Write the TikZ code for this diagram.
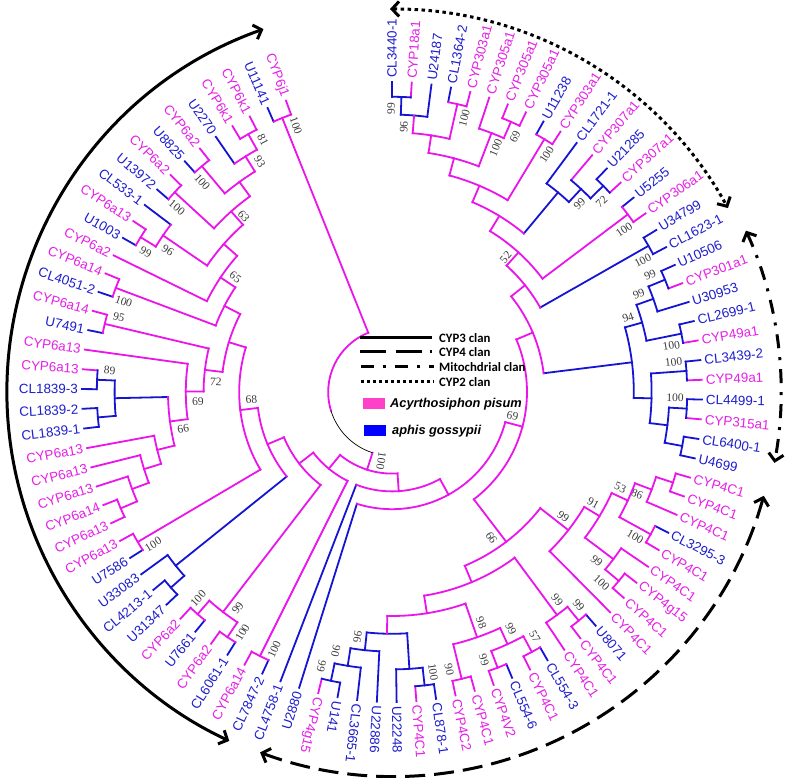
\documentclass[tikz,border=0pt]{standalone}
\usepackage{fontspec}
\setmainfont{Liberation Sans}
\newfontfamily\bsfont{Liberation Serif}
\newfontfamily\legfont{Carlito}
\usetikzlibrary{arrows.meta}
\definecolor{mg}{RGB}{235,20,235}
\definecolor{bl}{RGB}{20,20,210}
\definecolor{mgt}{RGB}{230,32,230}
\definecolor{blt}{RGB}{30,30,205}
\definecolor{bsg}{RGB}{60,60,60}
\definecolor{pinkbox}{RGB}{255,64,200}
\definecolor{bluebox}{RGB}{0,0,255}
\newcommand\setv[2]{\expandafter\xdef\csname tv@#1\endcsname{#2}}
\newcommand\getv[1]{\csname tv@#1\endcsname}
\tikzset{
  br/.style={line width=1.8pt,line cap=rect,line join=miter},
  leaf/.style={inner sep=0pt,font=\fontsize{13.4}{15}\selectfont},
  bs/.style={inner sep=0pt,text=bsg,font=\bsfont\fontsize{11.5}{12}\selectfont},
  clan/.style={line width=3pt},
  legtxt/.style={anchor=west,inner sep=0pt,font=\legfont\bfseries\fontsize{12.8}{14}\selectfont},
  spectxt/.style={anchor=west,inner sep=0pt,font=\bfseries\itshape\fontsize{12.8}{14}\selectfont}
}
% leaf: name, index, colour, text
\newcommand\Lf[4]{%
  \pgfmathsetmacro\la{90-(#2-1)*3.656}%
  \setv{a#1}{\la}\setv{h#1}{0}\setv{r#1}{310}\setv{c#1}{#3}%
  \pgfmathtruncatemacro\fl{\la>-105?1:0}%
  \ifnum\fl=1
    \node[leaf,text=#3t,rotate=\la,anchor=west] (#1) at (\la:314pt) {#4};%
  \else
    \pgfmathsetmacro\lb{\la+180}%
    \node[leaf,text=#3t,rotate=\lb,anchor=east] (#1) at (\la:314pt) {#4};%
  \fi}
% internal node: name, child A, child B, arc colour, stem colour, label, label angle offset
\newcommand\Nd[7]{%
  \edef\aA{\getv{a#2}}\edef\aB{\getv{a#3}}%
  \edef\rA{\getv{r#2}}\edef\rB{\getv{r#3}}%
  \edef\cA{\getv{c#2}}\edef\cB{\getv{c#3}}%
  \edef\hA{\getv{h#2}}\edef\hB{\getv{h#3}}%
  \pgfmathtruncatemacro\xh{max(\hA,\hB)+1}%
  \pgfmathsetmacro\xr{313-17.8*\xh}%
  \pgfmathsetmacro\xa{(\aA+\aB)/2}%
  \setv{a#1}{\xa}\setv{h#1}{\xh}\setv{r#1}{\xr}\setv{c#1}{#5}%
  \draw[br,color=\cA] (\aA:\xr pt) -- (\aA:\rA pt);%
  \draw[br,color=\cB] (\aB:\xr pt) -- (\aB:\rB pt);%
  \draw[br,color=#4] (\aA:\xr pt) arc[start angle=\aA,end angle=\aB,radius=\xr pt];%
  \def\tmp{#6}%
  \ifx\tmp\empty\else
    \pgfmathsetmacro\ba{\xa+#7}\pgfmathsetmacro\bR{\xr-12}%
    \pgfmathtruncatemacro\fl{\ba>-105?1:0}%
    \ifnum\fl=1 \pgfmathsetmacro\bb{\ba}\else\pgfmathsetmacro\bb{\ba+180}\fi
    \node[bs,rotate=\bb] (b#1) at (\ba:\bR pt) {#6};%
  \fi}
\begin{document}
\begin{tikzpicture}[x=1pt,y=1pt]
\fill[white] (-392,-386) rectangle (395,392);
\useasboundingbox (-392,-386) rectangle (395,392);
% leaves
\Lf{l1}{1}{bl}{CL3440-1}
\Lf{l2}{2}{mg}{CYP18a1}
\Lf{l3}{3}{bl}{U24187}
\Lf{l4}{4}{bl}{CL1364-2}
\Lf{l5}{5}{mg}{CYP303a1}
\Lf{l6}{6}{mg}{CYP305a1}
\Lf{l7}{7}{mg}{CYP305a1}
\Lf{l8}{8}{mg}{CYP305a1}
\Lf{l9}{9}{bl}{U11238}
\Lf{l10}{10}{mg}{CYP303a1}
\Lf{l11}{11}{bl}{CL1721-1}
\Lf{l12}{12}{mg}{CYP307a1}
\Lf{l13}{13}{bl}{U21285}
\Lf{l14}{14}{mg}{CYP307a1}
\Lf{l15}{15}{bl}{U5255}
\Lf{l16}{16}{mg}{CYP306a1}
\Lf{l17}{17}{bl}{U34799}
\Lf{l18}{18}{bl}{CL1623-1}
\Lf{l19}{19}{bl}{U10506}
\Lf{l20}{20}{mg}{CYP301a1}
\Lf{l21}{21}{bl}{U30953}
\Lf{l22}{22}{bl}{CL2699-1}
\Lf{l23}{23}{mg}{CYP49a1}
\Lf{l24}{24}{bl}{CL3439-2}
\Lf{l25}{25}{mg}{CYP49a1}
\Lf{l26}{26}{bl}{CL4499-1}
\Lf{l27}{27}{mg}{CYP315a1}
\Lf{l28}{28}{bl}{CL6400-1}
\Lf{l29}{29}{bl}{U4699}
\Lf{l30}{30}{mg}{CYP4C1}
\Lf{l31}{31}{mg}{CYP4C1}
\Lf{l32}{32}{mg}{CYP4C1}
\Lf{l33}{33}{bl}{CL3295-3}
\Lf{l34}{34}{mg}{CYP4C1}
\Lf{l35}{35}{mg}{CYP4C1}
\Lf{l36}{36}{mg}{CYP4g15}
\Lf{l37}{37}{mg}{CYP4C1}
\Lf{l38}{38}{mg}{CYP4C1}
\Lf{l39}{39}{bl}{U8071}
\Lf{l40}{40}{mg}{CYP4C1}
\Lf{l41}{41}{mg}{CYP4C1}
\Lf{l42}{42}{bl}{CL554-3}
\Lf{l43}{43}{mg}{CYP4C1}
\Lf{l44}{44}{bl}{CL554-6}
\Lf{l45}{45}{mg}{CYP4V2}
\Lf{l46}{46}{mg}{CYP4C1}
\Lf{l47}{47}{mg}{CYP4C2}
\Lf{l48}{48}{bl}{CL878-1}
\Lf{l49}{49}{mg}{CYP4C1}
\Lf{l50}{50}{bl}{U22248}
\Lf{l51}{51}{bl}{U22886}
\Lf{l52}{52}{bl}{CL3665-1}
\Lf{l53}{53}{bl}{U141}
\Lf{l54}{54}{mg}{CYP4g15}
\Lf{l55}{55}{bl}{U2880}
\Lf{l56}{56}{bl}{CL4758-1}
\Lf{l57}{57}{bl}{CL7847-2}
\Lf{l58}{58}{mg}{CYP6a14}
\Lf{l59}{59}{bl}{CL6061-1}
\Lf{l60}{60}{mg}{CYP6a2}
\Lf{l61}{61}{bl}{U7661}
\Lf{l62}{62}{mg}{CYP6a2}
\Lf{l63}{63}{bl}{U31347}
\Lf{l64}{64}{bl}{CL4213-1}
\Lf{l65}{65}{bl}{U33083}
\Lf{l66}{66}{bl}{U7586}
\Lf{l67}{67}{mg}{CYP6a13}
\Lf{l68}{68}{mg}{CYP6a13}
\Lf{l69}{69}{mg}{CYP6a14}
\Lf{l70}{70}{mg}{CYP6a13}
\Lf{l71}{71}{mg}{CYP6a13}
\Lf{l72}{72}{mg}{CYP6a13}
\Lf{l73}{73}{bl}{CL1839-1}
\Lf{l74}{74}{bl}{CL1839-2}
\Lf{l75}{75}{bl}{CL1839-3}
\Lf{l76}{76}{mg}{CYP6a13}
\Lf{l77}{77}{mg}{CYP6a13}
\Lf{l78}{78}{bl}{U7491}
\Lf{l79}{79}{mg}{CYP6a14}
\Lf{l80}{80}{bl}{CL4051-2}
\Lf{l81}{81}{mg}{CYP6a14}
\Lf{l82}{82}{mg}{CYP6a2}
\Lf{l83}{83}{bl}{U1003}
\Lf{l84}{84}{mg}{CYP6a13}
\Lf{l85}{85}{bl}{CL533-1}
\Lf{l86}{86}{bl}{U13972}
\Lf{l87}{87}{mg}{CYP6a2}
\Lf{l88}{88}{bl}{U8825}
\Lf{l89}{89}{mg}{CYP6a2}
\Lf{l90}{90}{bl}{U2270}
\Lf{l91}{91}{mg}{CYP6k1}
\Lf{l92}{92}{mg}{CYP6k1}
\Lf{l93}{93}{bl}{U11141}
\Lf{l94}{94}{mg}{CYP6j1}
% CYP2 clan
\Nd{A1}{l1}{l2}{bl}{bl}{99}{2}
\Nd{A2}{A1}{l3}{bl}{mg}{96}{2}
\Nd{A3}{l4}{l5}{mg}{mg}{100}{-2}
\Nd{A4}{A2}{A3}{mg}{mg}{}{0}
\Nd{A5}{l7}{l8}{mg}{mg}{69}{-2}
\Nd{A6}{l6}{A5}{mg}{mg}{100}{-2}
\Nd{A7}{A4}{A6}{mg}{mg}{}{0}
\Nd{A8}{l9}{l10}{mg}{mg}{100}{-2}
\Nd{A9}{A7}{A8}{mg}{mg}{}{0}
\Nd{A10}{l13}{l14}{bl}{bl}{72}{-2}
\Nd{A11}{l12}{A10}{bl}{bl}{99}{-2}
\Nd{A12}{l11}{A11}{bl}{bl}{}{0}
\Nd{A13}{A9}{A12}{mg}{mg}{}{0}
\Nd{A14}{l15}{l16}{mg}{mg}{100}{-2}
\Nd{A15}{A13}{A14}{mg}{mg}{52}{2}
% mitochondrial
\Nd{B1}{l17}{l18}{bl}{bl}{100}{-2}
\Nd{C1}{A15}{B1}{mg}{mg}{}{0}
\Nd{B2}{l19}{l20}{bl}{bl}{99}{2}
\Nd{B3}{B2}{l21}{bl}{bl}{99}{2}
\Nd{B4}{l22}{l23}{bl}{bl}{100}{-2}
\Nd{B5}{B3}{B4}{bl}{bl}{94}{2}
\Nd{B7}{l24}{l25}{bl}{bl}{100}{2}
\Nd{B8}{l26}{l27}{bl}{bl}{100}{2}
\Nd{B9}{l28}{l29}{bl}{bl}{}{0}
\Nd{B10}{B8}{B9}{bl}{bl}{}{0}
\Nd{B11}{B7}{B10}{bl}{bl}{}{0}
\Nd{B6}{B5}{B11}{bl}{bl}{}{0}
\Nd{C2}{C1}{B6}{mg}{mg}{}{0}
% CYP4 clan
\Nd{P30}{l30}{l31}{mg}{mg}{}{0}
\Nd{P31}{P30}{l32}{mg}{mg}{86}{-2}
\Nd{P33}{l33}{l34}{mg}{mg}{100}{-2}
\Nd{P53}{P31}{P33}{mg}{mg}{53}{2}
\Nd{X1}{l36}{l37}{mg}{mg}{100}{-2.5}
\Nd{X2}{l35}{X1}{mg}{mg}{99}{-2.5}
\Nd{N91}{P53}{X2}{mg}{mg}{91}{2}
\Nd{N99a}{N91}{l38}{mg}{mg}{99}{2}
\Nd{N99b}{l39}{l40}{mg}{mg}{99}{2}
\Nd{N99c}{N99b}{l41}{mg}{mg}{99}{2}
\Nd{G7}{l42}{l43}{mg}{mg}{57}{2}
\Nd{G8}{l44}{l45}{mg}{mg}{99}{-2}
\Nd{G9}{G7}{G8}{mg}{mg}{99}{2}
\Nd{G10}{l46}{l47}{mg}{mg}{90}{-2}
\Nd{G11}{G9}{G10}{mg}{mg}{98}{2}
\Nd{G4}{l48}{l49}{bl}{bl}{100}{2}
\Nd{G5}{G4}{l50}{bl}{bl}{}{0}
\Nd{G1}{l53}{l54}{bl}{bl}{99}{-2.5}
\Nd{G2}{l52}{G1}{bl}{bl}{90}{-3}
\Nd{G3}{l51}{G2}{bl}{bl}{96}{-2}
\Nd{G6}{G5}{G3}{bl}{mg}{}{0}
\Nd{G12}{G11}{G6}{mg}{mg}{}{0}
\Nd{W}{N99c}{G12}{mg}{mg}{}{0}
\Nd{E}{N99a}{W}{mg}{mg}{66}{-3}
\Nd{D}{C2}{E}{mg}{mg}{69}{3.5}
\Nd{F}{D}{l55}{mg}{mg}{}{0}
\Nd{H}{F}{l56}{mg}{mg}{}{0}
% CYP3 clan
\Nd{K57}{l57}{l58}{mg}{mg}{100}{2}
\Nd{K59}{l59}{l60}{mg}{mg}{100}{2}
\Nd{K61}{l61}{l62}{mg}{mg}{100}{-2}
\Nd{L}{K59}{K61}{mg}{mg}{99}{2}
\Nd{N63}{l63}{l64}{bl}{bl}{}{0}
\Nd{N}{N63}{l65}{bl}{bl}{}{0}
\Nd{K66}{l66}{l67}{mg}{mg}{100}{2}
\Nd{P68}{l68}{l69}{mg}{mg}{}{0}
\Nd{P70}{P68}{l70}{mg}{mg}{}{0}
\Nd{P71}{P70}{l71}{mg}{mg}{}{0}
\Nd{P72}{P71}{l72}{mg}{mg}{}{0}
\Nd{C73}{l73}{l74}{bl}{bl}{}{0}
\Nd{C75}{l75}{l76}{bl}{bl}{89}{-2}
\Nd{C1839}{C73}{C75}{bl}{bl}{}{0}
\Nd{N66}{P72}{C1839}{mg}{mg}{66}{2.4}
\Nd{N69}{N66}{l77}{mg}{mg}{69}{3}
\Nd{K78}{l78}{l79}{mg}{mg}{95}{-2}
\Nd{N72}{N69}{K78}{mg}{mg}{72}{3.5}
\Nd{K80}{l80}{l81}{mg}{mg}{100}{2}
\Nd{K83}{l83}{l84}{mg}{mg}{99}{2}
\Nd{K85}{K83}{l85}{mg}{mg}{96}{2}
\Nd{K86}{l86}{l87}{mg}{mg}{100}{2}
\Nd{K88}{l88}{l89}{mg}{mg}{100}{2}
\Nd{K91}{l91}{l92}{mg}{mg}{81}{-2}
\Nd{K90}{l90}{K91}{mg}{mg}{93}{-2}
\Nd{Q1}{K88}{K90}{mg}{mg}{}{0}
\Nd{Q2}{K86}{Q1}{mg}{mg}{63}{-1.5}
\Nd{Q3}{K85}{Q2}{mg}{mg}{}{0}
\Nd{V}{l82}{Q3}{mg}{mg}{65}{-2.5}
\Nd{U}{K80}{V}{mg}{mg}{}{0}
\Nd{R}{N72}{U}{mg}{mg}{}{0}
\Nd{S}{K66}{R}{mg}{mg}{68}{-3.6}
\Nd{M}{N}{S}{mg}{mg}{}{0}
\Nd{K}{L}{M}{mg}{mg}{}{0}
\Nd{J}{K57}{K}{mg}{mg}{}{0}
\Nd{T93}{l93}{l94}{mg}{mg}{100}{-2}
\Nd{Bn}{H}{J}{mg}{mg}{100}{9}
% root
\edef\aA{\getv{aT93}}\edef\aB{\getv{aBn}}
\edef\rA{\getv{rT93}}\edef\rB{\getv{rBn}}
\draw[br,color=mg] (\aA:63.8pt) -- (\aA:\rA pt);
\draw[br,color=mg] (\aB:63.8pt) -- (\aB:\rB pt);
\draw[br,color=mg] (\aA:63.8pt) arc[start angle=\aA,end angle=-163,radius=63.8pt];
\draw[black,line width=0.7pt] (-163:63.8pt) arc[start angle=-163,end angle=\aB,radius=63.8pt];
% clan arrows
\draw[clan,{Straight Barb[length=7pt,width=15pt]}-{Straight Barb[length=7pt,width=15pt]}] (109.5:385pt) arc[start angle=109.5,end angle=245,radius=385pt];
\draw[clan,dash pattern=on 3.5pt off 3.5pt,{Straight Barb[length=7pt,width=15pt]}-{Straight Barb[length=7pt,width=15pt]}] (90.3:383pt) arc[start angle=90.3,end angle=28.7,radius=383pt];
\draw[clan,dash pattern=on 14pt off 9pt on 3pt off 9pt,{Straight Barb[length=7pt,width=15pt]}-{Straight Barb[length=7pt,width=15pt]}] (24.5:389pt) arc[start angle=24.5,end angle=-10.5,radius=389pt];
\draw[clan,dash pattern=on 20pt off 9pt,{Straight Barb[length=7pt,width=15pt]}-{Straight Barb[length=7pt,width=15pt]}] (-15.6:386pt) arc[start angle=-15.6,end angle=-110.4,radius=384pt];
% legend
\coordinate (g1a) at (-32,54); \coordinate (g1b) at (40,54);
\coordinate (g2a) at (-32,40); \coordinate (g2b) at (42,40);
\coordinate (g3a) at (-31,25); \coordinate (g3b) at (42,25);
\coordinate (g4a) at (-31,10); \coordinate (g4b) at (42,10);
\draw[line width=3pt] (g1a) -- (g1b);
\draw[line width=3pt,dash pattern=on 26pt off 10pt on 26pt off 8pt on 2pt off 40pt] (g2a) -- (g2b);
\draw[line width=3pt,dash pattern=on 13pt off 9pt on 3pt off 9pt] (g3a) -- (g3b);
\draw[line width=3pt,dash pattern=on 3pt off 3pt] (g4a) -- (g4b);
\node[legtxt] (t1) at (47,54) {CYP3 clan};
\node[legtxt] (t2) at (47,40) {CYP4 clan};
\node[legtxt] (t3) at (47,25) {Mitochdrial clan};
\node[legtxt] (t4) at (47,10) {CYP2 clan};
\fill[pinkbox] (-29,-6) rectangle (-7,-17);
\fill[bluebox] (-28,-33) rectangle (-6,-44);
\node[spectxt] (s1) at (-2,-12) {Acyrthosiphon pisum};
\node[spectxt] (s2) at (0,-39) {aphis gossypii};
\end{tikzpicture}
\end{document}
